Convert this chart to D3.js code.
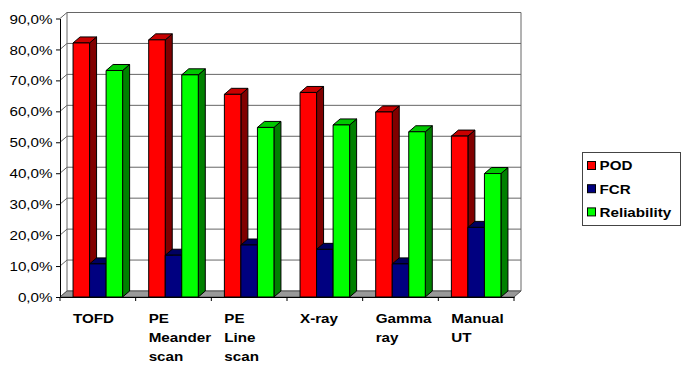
<!DOCTYPE html>
<html>
<head>
<meta charset="utf-8">
<script src="https://cdn.jsdelivr.net/npm/d3@7"></script>
<style>
  html, body { margin: 0; padding: 0; background: #fff; }
  svg { display: block; font-family: "Liberation Sans", Arial, sans-serif; }
</style>
</head>
<body>
<div id="chart"></div>
<script>
// Inspection methods and their scores (percent)
const categories = ["TOFD", "PE Meander scan", "PE Line scan", "X-ray", "Gamma ray", "Manual UT"];
const seriesNames = ["POD", "FCR", "Reliability"];
const pod = [82.1, 83.1, 65.5, 66.1, 59.8, 52.0];
const fcr = [10.7, 13.5, 16.8, 15.4, 10.7, 22.5];
const reliability = [73.2, 71.8, 54.8, 55.6, 53.4, 39.9];
const yTicks = [0, 10, 20, 30, 40, 50, 60, 70, 80, 90];

const seriesValues = [pod, fcr, reliability];
// front, top and side shades for each series
const faceColors = [
  { front: "#ff0000", top: "#c80000", side: "#800000" },
  { front: "#000080", top: "#000060", side: "#000040" },
  { front: "#00ff00", top: "#00c800", side: "#008000" }
];

const W = 683, H = 365;
const plot = { left: 60, right: 514, top: 18.5, bottom: 297 };
const depth = { dx: 7, dy: -6 };
const textStretch = 1.17;

const svg = d3.select("#chart").append("svg")
  .attr("width", W).attr("height", H);

const x0 = d3.scaleBand().domain(categories).range([plot.left, plot.right]).padding(0);
const x1 = d3.scaleBand().domain(seriesNames).range([0, x0.bandwidth()])
  .paddingInner(0).paddingOuter(0.79);
const y = d3.scaleLinear().domain([0, 90]).range([plot.bottom, plot.top]);

const pts = arr => arr.map(p => p.join(",")).join(" ");

// Back wall and left wall gridlines
const grid = svg.append("g").attr("fill", "none").attr("stroke", "#666").attr("stroke-width", 1);
yTicks.forEach(t => {
  const yy = y(t);
  grid.append("polyline").attr("points", pts([
    [plot.left, yy], [plot.left + depth.dx, yy + depth.dy], [plot.right + depth.dx, yy + depth.dy]
  ]));
});
// wall edges
grid.append("line")
  .attr("x1", plot.left + depth.dx).attr("x2", plot.left + depth.dx)
  .attr("y1", y(90) + depth.dy).attr("y2", y(0) + depth.dy);
grid.append("line")
  .attr("x1", plot.right + depth.dx).attr("x2", plot.right + depth.dx)
  .attr("y1", y(90) + depth.dy).attr("y2", y(0) + depth.dy);

// Floor
svg.append("polygon")
  .attr("points", pts([
    [plot.left, y(0)], [plot.right, y(0)],
    [plot.right + depth.dx, y(0) + depth.dy], [plot.left + depth.dx, y(0) + depth.dy]
  ]))
  .attr("fill", "#999").attr("stroke", "#555").attr("stroke-width", 1);

// Bars as shaded boxes
const bars = svg.append("g").attr("stroke", "#000").attr("stroke-width", 1).attr("stroke-linejoin", "round");
categories.forEach((cat, ci) => {
  seriesNames.forEach((s, si) => {
    const v = seriesValues[si][ci];
    const xa = x0(cat) + x1(s), xb = xa + x1.bandwidth();
    const yt = y(v), yb = y(0);
    const c = faceColors[si];
    const g = bars.append("g");
    g.append("polygon").attr("fill", c.side).attr("points", pts([
      [xb, yb], [xb + depth.dx, yb + depth.dy], [xb + depth.dx, yt + depth.dy], [xb, yt]
    ]));
    g.append("polygon").attr("fill", c.top).attr("points", pts([
      [xa, yt], [xb, yt], [xb + depth.dx, yt + depth.dy], [xa + depth.dx, yt + depth.dy]
    ]));
    g.append("rect").attr("fill", c.front)
      .attr("x", xa).attr("y", yt).attr("width", xb - xa).attr("height", yb - yt);
  });
});

// Front value axis
const yAxis = d3.axisLeft(y).tickValues(yTicks).tickSizeInner(4).tickSizeOuter(0)
  .tickFormat(d => d3.format(".1f")(d).replace(".", ",") + "%");
const gy = svg.append("g").attr("transform", `translate(${plot.left},0)`).call(yAxis);
gy.select(".domain").attr("stroke", "#000");
gy.selectAll(".tick line").attr("stroke", "#000");
gy.selectAll(".tick text")
  .attr("x", null).attr("dy", null)
  .attr("transform", `translate(-7.5,4.6) scale(${textStretch},1)`)
  .attr("text-anchor", "end")
  .attr("font-size", 13).attr("font-family", "'Liberation Sans', Arial, sans-serif")
  .attr("fill", "#000");

// Category axis
const xAxis = d3.axisBottom(x0).tickSizeInner(0).tickSizeOuter(0).tickFormat("");
const gx = svg.append("g").attr("transform", `translate(0,${plot.bottom})`).call(xAxis);
gx.select(".domain").attr("stroke", "#000");
gx.selectAll(".tick").remove();
const boundaries = categories.map(c => x0(c)).concat([plot.right]);
gx.selectAll("line.bound").data(boundaries).enter().append("line")
  .attr("class", "bound")
  .attr("x1", d => d).attr("x2", d => d).attr("y1", 0).attr("y2", 4)
  .attr("stroke", "#000");

const labels = svg.append("g")
  .attr("font-size", 13).attr("font-weight", "bold").attr("fill", "#000");
categories.forEach(cat => {
  const lines = cat.split(" ");
  lines.forEach((ln, li) => {
    labels.append("text")
      .attr("transform", `translate(${x0(cat) + 13},${322.6 + li * 19.2}) scale(${textStretch},1)`)
      .text(ln);
  });
});

// Legend
const legend = svg.append("g");
legend.append("rect")
  .attr("x", 582.5).attr("y", 152.5).attr("width", 98).attr("height", 73)
  .attr("fill", "#fff").attr("stroke", "#444").attr("stroke-width", 1);
seriesNames.forEach((s, i) => {
  const row = 161 + i * 23.2;
  legend.append("rect")
    .attr("x", 587.5).attr("y", row + 0.5).attr("width", 8).attr("height", 8)
    .attr("fill", faceColors[i].front).attr("stroke", "#000").attr("stroke-width", 1);
  legend.append("text")
    .attr("transform", `translate(599.5,${row + 9.3}) scale(${textStretch},1)`)
    .attr("font-size", 13).attr("font-weight", "bold").attr("fill", "#000")
    .text(s);
});
</script>
</body>
</html>
